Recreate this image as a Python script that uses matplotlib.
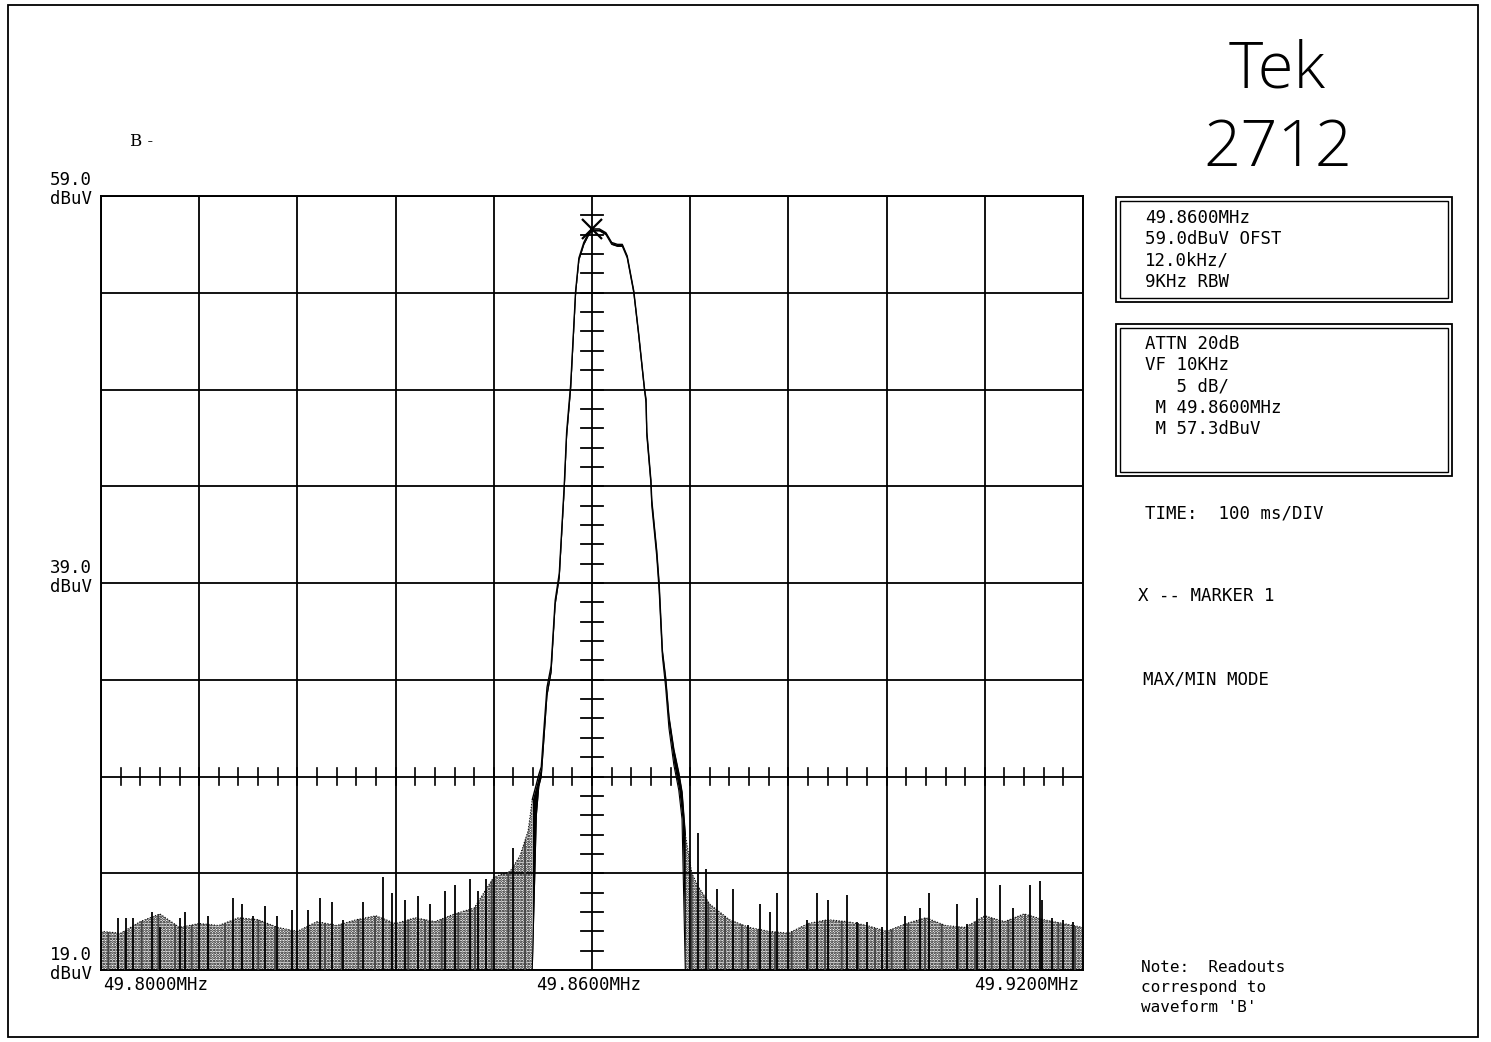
import matplotlib
matplotlib.use('Agg')
import matplotlib.pyplot as plt
from matplotlib.patches import Rectangle
import numpy as np

# ---------------- data ----------------
F_START, F_CENTER, F_STOP = 49.800, 49.860, 49.920   # MHz
REF_TOP, REF_BOTTOM = 59.0, 19.0                     # dBuV
DB_PER_DIV = 5.0
KHZ_PER_DIV = 12.0
TRACE_AXIS_LEVEL = 29.0                              # horizontal graticule with ticks

x_labels = ["49.8000MHz", "49.8600MHz", "49.9200MHz"]
y_labels = ["59.0", "39.0", "19.0"]

# signal (max / min trace) in MAX/MIN mode
sig_freq = [49.8527, 49.8532, 49.8535, 49.8538, 49.8541, 49.8545, 49.8550, 49.8555,
            49.8560, 49.8566, 49.8569, 49.8574, 49.8580, 49.8584, 49.8590, 49.8596,
            49.8600, 49.8609, 49.8617, 49.8624, 49.8631, 49.8637, 49.8643, 49.8651,
            49.8657, 49.8664, 49.8666, 49.8667, 49.8672, 49.8673, 49.8679, 49.8682,
            49.8686, 49.8690, 49.8694, 49.8700, 49.8706, 49.8710, 49.8714]
sig_max = [27.8, 28.6, 29.1, 29.5, 31.3, 33.6, 34.7, 38.1,
           39.5, 44.0, 46.8, 49.3, 54.1, 55.8, 56.6, 57.1,
           57.3, 57.3, 57.1, 56.6, 56.5, 56.5, 55.9, 54.1,
           51.9, 49.1, 48.5, 46.8, 44.3, 43.3, 40.7, 39.0,
           35.5, 34.1, 32.1, 30.4, 29.2, 28.2, 26.0]
sig_min = [19.0, 27.0, 28.5, 29.0, 30.8, 33.2, 34.4, 37.9,
           39.3, 43.8, 46.6, 49.1, 54.0, 55.7, 56.5, 57.0,
           57.2, 57.2, 57.0, 56.5, 56.4, 56.4, 55.8, 54.0,
           51.8, 49.0, 48.3, 46.6, 44.1, 43.0, 40.4, 38.6,
           35.2, 33.6, 31.5, 29.6, 28.3, 26.8, 19.0]

marker_freq, marker_level = 49.8600, 57.3

# noise floor envelope (dense part), left and right of the carrier
noise_left_freq = [49.8000, 49.8024, 49.8048, 49.8072, 49.8096, 49.8120, 49.8144, 49.8168,
                   49.8192, 49.8216, 49.8240, 49.8264, 49.8288, 49.8312, 49.8336, 49.8360,
                   49.8384, 49.8408, 49.8432, 49.8456, 49.8480, 49.8500, 49.8512, 49.8522,
                   49.8527]
noise_left_level = [21.0, 20.9, 21.5, 21.9, 21.2, 21.4, 21.3, 21.7,
                    21.6, 21.2, 21.0, 21.5, 21.3, 21.6, 21.8, 21.4,
                    21.7, 21.5, 21.9, 22.2, 23.8, 24.1, 24.9, 26.2,
                    27.8]
noise_right_freq = [49.8714, 49.8722, 49.8730, 49.8744, 49.8768, 49.8792, 49.8816, 49.8840,
                    49.8864, 49.8888, 49.8912, 49.8936, 49.8960, 49.8984, 49.9008, 49.9032,
                    49.9056, 49.9080, 49.9104, 49.9128, 49.9152, 49.9176, 49.9200]
noise_right_level = [26.0, 24.0, 23.3, 22.4, 21.6, 21.2, 21.0, 20.9,
                     21.4, 21.6, 21.5, 21.3, 21.0, 21.4, 21.7, 21.3,
                     21.2, 21.8, 21.5, 21.9, 21.6, 21.4, 21.2]

# individual noise spikes (max hold peaks)
spike_freq = [49.8021, 49.8031, 49.8039, 49.8062, 49.8072, 49.8097, 49.8103, 49.8131,
              49.8161, 49.8172, 49.8186, 49.8200, 49.8215, 49.8233, 49.8253, 49.8268,
              49.8282, 49.8296, 49.8320, 49.8345, 49.8356, 49.8371, 49.8387, 49.8402,
              49.8420, 49.8433, 49.8451, 49.8461, 49.8470, 49.8503,
              49.8730, 49.8739, 49.8753, 49.8772, 49.8791, 49.8805, 49.8818, 49.8826,
              49.8863, 49.8875, 49.8888, 49.8912, 49.8924, 49.8936, 49.8954, 49.8982,
              49.9001, 49.9012, 49.9046, 49.9058, 49.9070, 49.9099, 49.9114, 49.9135,
              49.9147, 49.9150, 49.9162, 49.9176, 49.9188]
spike_level = [21.7, 21.7, 21.7, 22.0, 21.2, 21.7, 22.0, 21.8,
               22.7, 22.4, 21.8, 22.3, 21.8, 22.1, 22.1, 22.7,
               22.5, 21.6, 22.5, 23.8, 23.0, 22.6, 22.8, 22.4,
               23.1, 23.4, 23.7, 23.1, 23.7, 25.3,
               26.1, 24.2, 23.2, 23.2, 21.3, 22.4, 22.0, 23.0,
               21.6, 23.0, 22.6, 22.9, 21.5, 21.5, 21.2, 21.8,
               22.2, 23.0, 22.4, 21.4, 22.7, 23.4, 22.2, 23.4,
               23.6, 22.6, 21.7, 21.6, 21.5]

box1_lines = ["49.8600MHz", "59.0dBuV OFST", "12.0kHz/", "9KHz RBW"]
box2_lines = ["ATTN 20dB", "VF 10KHz", "   5 dB/", " M 49.8600MHz", " M 57.3dBuV"]

# ---------------- figure ----------------
W, H = 1491, 1042
fig = plt.figure(figsize=(W / 100, H / 100), dpi=100)
fig.patch.set_facecolor('white')


def fx(x):
    return x / W


def fy(y):
    return 1 - y / H


MONO = ['DejaVu Sans Mono']
TS = 12.5

ax = fig.add_axes([fx(101), fy(970), (1083 - 101) / W, (970 - 196) / H])
ax.set_xlim(F_START, F_STOP)
ax.set_ylim(REF_BOTTOM, REF_TOP)
ax.set_xticks([])
ax.set_yticks([])
for s in ax.spines.values():
    s.set_linewidth(1.4)
    s.set_color('black')

# graticule
fdiv = KHZ_PER_DIV / 1000.0
xg = np.arange(F_START, F_STOP + fdiv / 2, fdiv)
yg = np.arange(REF_BOTTOM, REF_TOP + DB_PER_DIV / 2, DB_PER_DIV)
ax.vlines(xg, REF_BOTTOM, REF_TOP, colors='black', lw=1.3, zorder=1)
ax.hlines(yg, F_START, F_STOP, colors='black', lw=1.3, zorder=1)

# minor ticks on centre vertical line (1 dB)
half_w = fdiv * 0.11
for lv in np.arange(REF_BOTTOM + 1, REF_TOP, 1.0):
    ax.plot([F_CENTER - half_w, F_CENTER + half_w], [lv, lv], color='black', lw=1.3, zorder=2)
# minor ticks on the horizontal axis line
half_h = DB_PER_DIV * 0.085
for fq in np.arange(F_START + fdiv / 5, F_STOP, fdiv / 5):
    ax.plot([fq, fq], [TRACE_AXIS_LEVEL - half_h, TRACE_AXIS_LEVEL + half_h],
            color='black', lw=1.2, zorder=2)

# noise floor (stippled)
plt.rcParams['hatch.linewidth'] = 1.3
for fr, lv in ((noise_left_freq, noise_left_level), (noise_right_freq, noise_right_level)):
    ax.fill_between(fr, REF_BOTTOM, lv, facecolor='none', edgecolor='black',
                    hatch='......', linewidth=0, zorder=3)
    ax.fill_between(fr, REF_BOTTOM, lv, facecolor='none', edgecolor='#444444',
                    hatch='|', linewidth=0, zorder=3)
    ax.plot(fr, lv, color='black', lw=0.8, ls=(0, (1, 1.5)), zorder=3)
ax.vlines(spike_freq, REF_BOTTOM, spike_level, colors='black', lw=1.3, zorder=3)

# signal trace
ax.fill_between(sig_freq, sig_min, sig_max, color='black', lw=0, zorder=4)
ax.plot(sig_freq, sig_max, color='black', lw=1.0, zorder=4)
ax.plot(sig_freq, sig_min, color='black', lw=0.8, zorder=4)
ax.plot([marker_freq], [marker_level], marker='x', markersize=14, mew=1.6,
        color='black', zorder=5)

# axis labels
fig.text(fx(103), fy(985), x_labels[0], family=MONO, fontsize=TS, ha='left', va='center')
fig.text(fx(589), fy(985), x_labels[1], family=MONO, fontsize=TS, ha='center', va='center')
fig.text(fx(1079), fy(985), x_labels[2], family=MONO, fontsize=TS, ha='right', va='center')
for lab, yc in zip(y_labels, (180, 568, 955)):
    fig.text(fx(92), fy(yc), lab, family=MONO, fontsize=TS, ha='right', va='center')
    fig.text(fx(92), fy(yc + 19), "dBuV", family=MONO, fontsize=TS, ha='right', va='center')

# title block
fig.text(fx(1277), fy(87), "Tek", family=['Open Sans', 'DejaVu Sans'], fontweight='light',
         fontsize=47, ha='center', va='baseline')
fig.text(fx(1278), fy(166), "2712", family=['Open Sans', 'DejaVu Sans'], fontweight='light',
         fontsize=47, ha='center', va='baseline')
fig.text(fx(130), fy(141), "B -", family=['DejaVu Serif'], fontsize=12, ha='left', va='center')

# readout boxes (double frames)
for (x0, y0, x1, y1) in ((1116, 197, 1452, 302), (1116, 324, 1452, 476)):
    fig.add_artist(Rectangle((fx(x0), fy(y1)), (x1 - x0) / W, (y1 - y0) / H,
                             transform=fig.transFigure, fill=False, lw=1.3, ec='black'))
    fig.add_artist(Rectangle((fx(x0 + 4), fy(y1 - 4)), (x1 - x0 - 8) / W, (y1 - y0 - 8) / H,
                             transform=fig.transFigure, fill=False, lw=1.0, ec='black'))
for i, t in enumerate(box1_lines):
    fig.text(fx(1145), fy(218 + i * 21.3), t, family=MONO, fontsize=TS, ha='left', va='center')
for i, t in enumerate(box2_lines):
    fig.text(fx(1145), fy(344 + i * 21.3), t, family=MONO, fontsize=TS, ha='left', va='center')

fig.text(fx(1145), fy(514), "TIME:  100 ms/DIV", family=MONO, fontsize=TS, ha='left', va='center')
fig.text(fx(1138), fy(596), "X -- MARKER 1", family=MONO, fontsize=TS, ha='left', va='center')
fig.text(fx(1143), fy(679), "MAX/MIN MODE", family=MONO, fontsize=TS, ha='left', va='center')
note = ["Note:  Readouts", "correspond to", "waveform 'B'"]
for i, t in enumerate(note):
    fig.text(fx(1141), fy(968 + i * 19.5), t, family=MONO, fontsize=TS - 1, ha='left', va='center')

# page frame
fig.add_artist(Rectangle((fx(8), fy(1037)), (1478 - 8) / W, (1037 - 5) / H,
                         transform=fig.transFigure, fill=False, lw=1.3, ec='black'))

fig.savefig('out.png', dpi=100, facecolor='white')
